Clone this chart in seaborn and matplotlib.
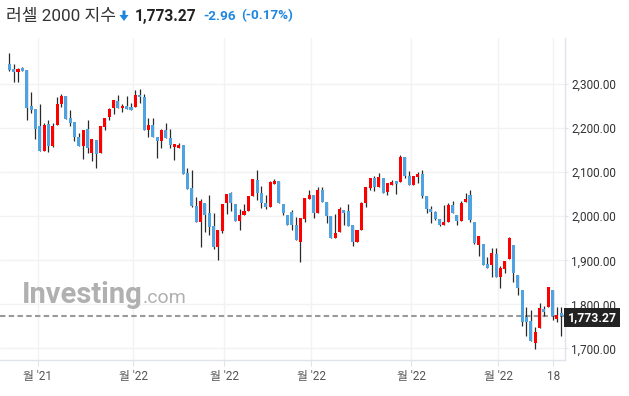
import numpy as np
import pandas as pd
import matplotlib
matplotlib.use("Agg")
import matplotlib.pyplot as plt
import seaborn as sns
from matplotlib.patches import Polygon, Rectangle

# ---------------- data ----------------
opens = [2346, 2335, 2328, 2337, 2332, 2250, 2243, 2205, 2149, 2209,
         2160, 2208, 2255, 2273, 2223, 2214, 2180, 2160, 2198, 2143,
         2173, 2143, 2203, 2225, 2245, 2262, 2245, 2251, 2249, 2249,
         2276, 2271, 2195, 2208, 2180, 2171, 2196, 2178, 2158, 2156,
         2162, 2098, 2064, 2023, 1986, 2030, 2007, 1978, 1931, 1967,
         2029, 2053, 2028, 1989, 2002, 2012, 2047, 2082, 2053, 2031,
         2022, 2073, 2080, 2027, 2003, 2010, 1980, 1942, 1994, 2039,
         2048, 2008, 2060, 2032, 2001, 1951, 1965, 2014, 2012, 1980,
         1942, 1969, 2031, 2065, 2087, 2067, 2088, 2054, 2072, 2080,
         2078, 2135, 2092, 2072, 2090, 2097, 2046, 2016, 2010, 1994,
         1980, 1987, 2026, 2003, 1990, 2033, 2048, 1987, 1934, 1938,
         1891, 1890, 1914, 1863, 1881, 1903, 1935, 1866, 1832, 1770,
         1763, 1713, 1747, 1789, 1794, 1832, 1767, 1781]
highs = [2371, 2346, 2337, 2339, 2332, 2282, 2243, 2254, 2213, 2218,
         2211, 2272, 2278, 2273, 2241, 2214, 2190, 2196, 2218, 2175,
         2173, 2205, 2223, 2247, 2264, 2276, 2255, 2274, 2258, 2287,
         2289, 2278, 2223, 2223, 2180, 2198, 2211, 2198, 2164, 2166,
         2162, 2109, 2105, 2043, 2040, 2030, 2048, 2007, 1969, 2028,
         2051, 2055, 2028, 2016, 2027, 2046, 2085, 2104, 2069, 2048,
         2079, 2084, 2080, 2027, 2003, 2014, 1999, 1995, 2041, 2060,
         2048, 2066, 2067, 2032, 2001, 2005, 2022, 2014, 2027, 1980,
         1969, 2032, 2067, 2087, 2092, 2098, 2088, 2075, 2082, 2080,
         2139, 2135, 2103, 2092, 2100, 2104, 2046, 2023, 2012, 1994,
         2026, 2029, 2035, 2003, 2035, 2052, 2059, 1987, 1956, 1938,
         1908, 1927, 1927, 1887, 1898, 1952, 1935, 1866, 1832, 1793,
         1788, 1749, 1802, 1797, 1839, 1832, 1794, 1793]
lows = [2330, 2306, 2306, 2331, 2218, 2234, 2176, 2149, 2149, 2145,
        2157, 2208, 2249, 2222, 2204, 2170, 2160, 2131, 2143, 2126,
        2109, 2143, 2196, 2219, 2232, 2245, 2238, 2244, 2242, 2249,
        2258, 2195, 2181, 2181, 2133, 2156, 2177, 2156, 2127, 2156,
        2096, 2063, 2022, 1988, 1931, 1965, 1958, 1925, 1901, 1961,
        2004, 2013, 1989, 1968, 2002, 2012, 2047, 2038, 2018, 2016,
        2022, 2073, 2029, 2003, 1979, 1969, 1945, 1895, 1986, 2039,
        1995, 2008, 2033, 1985, 1951, 1951, 1965, 1980, 1978, 1933,
        1942, 1969, 2020, 2060, 2057, 2067, 2052, 2048, 2072, 2050,
        2078, 2088, 2070, 2070, 2076, 2041, 2007, 1984, 1992, 1978,
        1980, 1987, 2007, 1981, 1990, 2033, 1988, 1938, 1910, 1890,
        1882, 1863, 1863, 1838, 1870, 1903, 1850, 1820, 1751, 1728,
        1717, 1699, 1747, 1773, 1794, 1764, 1760, 1728]
closes = [2333, 2328, 2335, 2331, 2247, 2241, 2199, 2149, 2207, 2160,
          2205, 2255, 2273, 2222, 2212, 2181, 2160, 2196, 2154, 2175,
          2141, 2205, 2223, 2244, 2264, 2247, 2251, 2244, 2242, 2276,
          2270, 2195, 2208, 2181, 2171, 2196, 2177, 2161, 2164, 2162,
          2096, 2063, 2024, 1988, 2035, 2003, 1976, 1931, 1969, 2028,
          2051, 2029, 1989, 2003, 2012, 2046, 2085, 2052, 2031, 2022,
          2077, 2080, 2029, 2008, 1979, 1980, 1945, 1995, 2041, 2048,
          2008, 2060, 2033, 2001, 1951, 1961, 2016, 2008, 1978, 1942,
          1969, 2029, 2067, 2087, 2067, 2089, 2052, 2075, 2078, 2074,
          2135, 2092, 2070, 2092, 2097, 2046, 2016, 2010, 1994, 1980,
          1988, 2026, 2007, 1990, 2030, 2039, 1992, 1940, 1954, 1890,
          1882, 1916, 1863, 1882, 1898, 1950, 1870, 1838, 1760, 1760,
          1717, 1736, 1791, 1782, 1839, 1774, 1775, 1773.27]

x_tick_pos = [6.5, 28.5, 49.5, 69.5, 92.5, 112.5, 125.2]
x_tick_labels = ["월 '21", "월 '22", "월 '22", "월 '22", "월 '22", "월 '22", "18"]
y_ticks = [1700, 1800, 1900, 2000, 2100, 2200, 2300]

title_text = "러셀 2000 지수"
last_price = 1773.27
change_text = "-2.96"
change_pct_text = "(-0.17%)"

# ---------------- style ----------------
sns.set_theme(style="white")
plt.rcParams["font.family"] = ["Roboto", "Noto Sans CJK KR", "DejaVu Sans"]

UP = "#ff0000"
DOWN = "#4fa3e0"
WICK = "#2a2a2a"
GRID = "#f2f2f2"
SPINE = "#e0e3eb"
BLUE_TXT = "#1f86e0"

df = pd.DataFrame({"idx": np.arange(len(opens)), "open": opens, "high": highs,
                   "low": lows, "close": closes})
df["up"] = df["close"] > df["open"]
df["bottom"] = np.minimum(df["open"], df["close"])
df["height"] = np.maximum((df["close"] - df["open"]).abs(), 1.5)

W, H = 629, 396
fig = plt.figure(figsize=(W / 100, H / 100), dpi=100)
ax = fig.add_axes([0, 36 / H, 565 / W, (360 - 38) / H])

# grid
for yt in y_ticks:
    ax.axhline(yt, color=GRID, lw=1.0, zorder=0)
for xt in x_tick_pos:
    ax.axvline(xt, color=GRID, lw=1.0, zorder=0)

# dashed last price line
ax.axhline(last_price, color="#9a9a9a", lw=1.5, ls=(0, (2.6, 1.6)), zorder=1)

# candles
ax.vlines(df["idx"], df["low"], df["high"], color=WICK, lw=0.9, zorder=2)
ax.bar(df["idx"], df["height"], bottom=df["bottom"], width=0.7,
       color=[UP if u else DOWN for u in df["up"]], linewidth=0, zorder=3)

ax.set_xlim(-2.14, 127.86)
ax.set_ylim(1673.4, 2405)

ax.yaxis.tick_right()
ax.set_yticks(y_ticks)
ax.set_yticklabels([f"{v:,.2f}" for v in y_ticks])
ax.set_xticks(x_tick_pos)
ax.set_xticklabels(x_tick_labels)
ax.tick_params(axis="y", right=True, length=2.5, width=0.8, color=SPINE,
               pad=2, labelsize=8.5, labelcolor="#333333")
ax.tick_params(axis="x", bottom=True, length=4, width=0.8, color=SPINE,
               pad=3, labelsize=8.5, labelcolor="#555555")

for s in ["top", "left"]:
    ax.spines[s].set_visible(False)
for s in ["bottom", "right"]:
    ax.spines[s].set_color(SPINE)
    ax.spines[s].set_linewidth(1.0)
ax.set_xlabel("")
ax.set_ylabel("")

# price label box
fig.patches.append(Rectangle((564 / W, 1 - 327 / H), 56 / W, 19 / H,
                             transform=fig.transFigure, facecolor="#222222",
                             edgecolor="none", zorder=5))
fig.text(592 / W, 1 - 317.5 / H, f"{last_price:,.2f}", color="white",
         fontsize=8.8, fontweight="bold", ha="center", va="center", zorder=6)

# watermark
fig.text(22 / W, 1 - 303 / H, "Investing", color="#a8a8a8", fontsize=21,
         fontweight="bold", ha="left", va="baseline", alpha=0.9)
fig.text(143 / W, 1 - 303 / H, ".com", color="#a8a8a8", fontsize=14,
         ha="left", va="baseline", alpha=0.9)

# header
fig.text(6 / W, 1 - 16 / H, title_text, color="#333333", fontsize=12.3,
         ha="left", va="center")
arrow = Polygon([(122.5, 10.5), (125.5, 10.5), (125.5, 15), (128.5, 15),
                 (124, 21), (119.5, 15), (122.5, 15)], closed=True)
arrow.set_xy([(px / W, 1 - py / H) for px, py in arrow.get_xy()])
arrow.set_transform(fig.transFigure)
arrow.set_facecolor(BLUE_TXT)
arrow.set_edgecolor("none")
fig.patches.append(arrow)
fig.text(135 / W, 1 - 16 / H, f"{last_price:,.2f}", color="#222222",
         fontsize=11.2, fontweight="bold", ha="left", va="center")
fig.text(203 / W, 1 - 16 / H, change_text, color=BLUE_TXT, fontsize=9.7,
         fontweight="bold", ha="left", va="center")
fig.text(241 / W, 1 - 16 / H, change_pct_text, color=BLUE_TXT, fontsize=9.7,
         fontweight="bold", ha="left", va="center")

fig.savefig("out.png", dpi=100)
